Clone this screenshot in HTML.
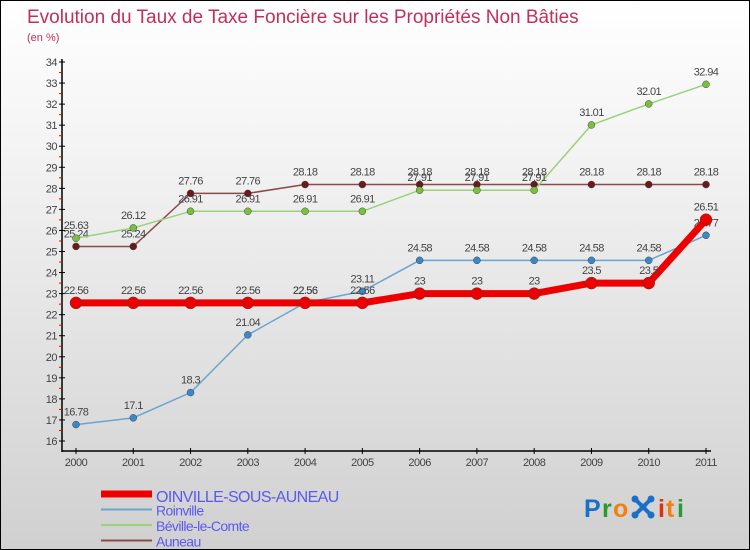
<!DOCTYPE html>
<html><head><meta charset="utf-8"><style>
body{margin:0}
#c{position:relative;width:748px;height:548px;border:1px solid #000;background:linear-gradient(#fff 0%,#f2f2f2 30%,#d0d0d0 100%);overflow:hidden;font-family:"Liberation Sans",sans-serif}
</style></head><body>
<div id="c">
<svg id="s" width="748" height="548" xmlns="http://www.w3.org/2000/svg" style="position:absolute;left:0;top:0">
<text x="26" y="22" font-size="19" fill="#c0305a">Evolution du Taux de Taxe Foncière sur les Propriétés Non Bâties</text>
<text x="26" y="40" font-size="11" fill="#c0305a">(en %)</text>
<g id="g"></g>
<g font-size="25" font-family="Liberation Sans, sans-serif" font-weight="bold">
<text x="583" y="516" fill="#1a70c8">P</text><text x="601" y="516" fill="#2a9a30">r</text><text x="612" y="516" fill="#f08010">o</text>
<g stroke="#1a70c8" stroke-width="4" stroke-linecap="round"><line x1="634" y1="498" x2="650" y2="514"/><line x1="650" y1="498" x2="634" y2="514"/></g>
<g fill="#1a70c8"><circle cx="634" cy="498" r="3.5"/><circle cx="650" cy="498" r="3.5"/><circle cx="634" cy="514" r="3.5"/><circle cx="650" cy="514" r="3.5"/><circle cx="642" cy="506" r="3.5"/></g>
<text x="657" y="516" fill="#e03010">i</text><text x="665" y="516" fill="#f08010">t</text><text x="676" y="516" fill="#2a9a30">i</text>
</g>
</svg>
</div>
<script>
const years=[2000,2001,2002,2003,2004,2005,2006,2007,2008,2009,2010,2011];
const oinville=[22.56,22.56,22.56,22.56,22.56,22.56,23,23,23,23.5,23.5,26.51];
const roinville=[16.78,17.1,18.3,21.04,22.56,23.11,24.58,24.58,24.58,24.58,24.58,25.77];
const beville=[25.63,26.12,26.91,26.91,26.91,26.91,27.91,27.91,27.91,31.01,32.01,32.94];
const auneau=[25.24,25.24,27.76,27.76,28.18,28.18,28.18,28.18,28.18,28.18,28.18,28.18];
const yTicks=[16,17,18,19,20,21,22,23,24,25,26,27,28,29,30,31,32,33,34];
const names=["OINVILLE-SOUS-AUNEAU","Roinville","Béville-le-Comte","Auneau"];
const NS="http://www.w3.org/2000/svg";
const g=document.getElementById('g');
const X=i=>75+i*(630/11);
const Y=v=>440-(v-16)*(379/18);
function el(t,a,txt){const e=document.createElementNS(NS,t);for(const k in a)e.setAttribute(k,a[k]);if(txt!=null)e.textContent=txt;g.appendChild(e);return e;}
let e=el('line',{x1:61,y1:58,x2:61,y2:451,stroke:'#000','stroke-width':1.5});

e=el('line',{x1:61,y1:450,x2:710,y2:450,stroke:'#000','stroke-width':1.5});

yTicks.forEach(v=>{
 el('line',{x1:58,y1:Y(v),x2:64,y2:Y(v),stroke:'#000'});
 if(v<34)el('line',{x1:58,y1:Y(v+0.5),x2:61,y2:Y(v+0.5),stroke:'#e00'});
 e=el('text',{x:56,y:Y(v)+4,'font-size':11,fill:'#444','text-anchor':'end','letter-spacing':'-0.5'},v);
 
});
years.forEach((yr,i)=>{
 el('line',{x1:X(i),y1:447,x2:X(i),y2:453,stroke:'#000'});
 e=el('text',{x:X(i),y:465,'font-size':11,fill:'#444','text-anchor':'middle','letter-spacing':'-0.5'},yr);
 
});
function series(data,col,w,r,dot,name){
 const p=data.map((v,i)=>X(i)+','+Y(v)).join(' ');
 let l=el('polyline',{points:p,fill:'none',stroke:col,'stroke-width':w,'stroke-linejoin':'round'});
 
 data.forEach((v,i)=>{
  let c=el('circle',{cx:X(i),cy:Y(v),r:r,fill:dot,stroke:'#444','stroke-width':0.5});
  
  let t=el('text',{x:X(i),y:Y(v)-9,'font-size':11,fill:'#444','text-anchor':'middle','letter-spacing':'-0.6'},String(v));
  
 });
}
series(auneau,'#8b4a4a',1.5,3.5,'#6a1a1a','auneau');
series(beville,'#9ad27a',1.5,3.5,'#7ac040','beville');
series(roinville,'#6aa4d0',1.5,3.5,'#3a88c8','roinville');
series(oinville,'#ee0000',7,6,'#ee0000','oinville');
const lc=['#ee0000','#6aa4d0','#9ad27a','#8b4a4a'],lw=[7,2,2,2];
names.forEach((n,i)=>{
 const y=493+i*15.5;
 let l=el('line',{x1:100,y1:y,x2:151,y2:y,stroke:lc[i],'stroke-width':lw[i]});
 
 let t=el('text',{x:155,y:y+(i==0?8:6),'font-size':i==0?16:14,fill:'#5a5af0','letter-spacing':'-0.6'},n);
 
});
</script>
</body></html>
